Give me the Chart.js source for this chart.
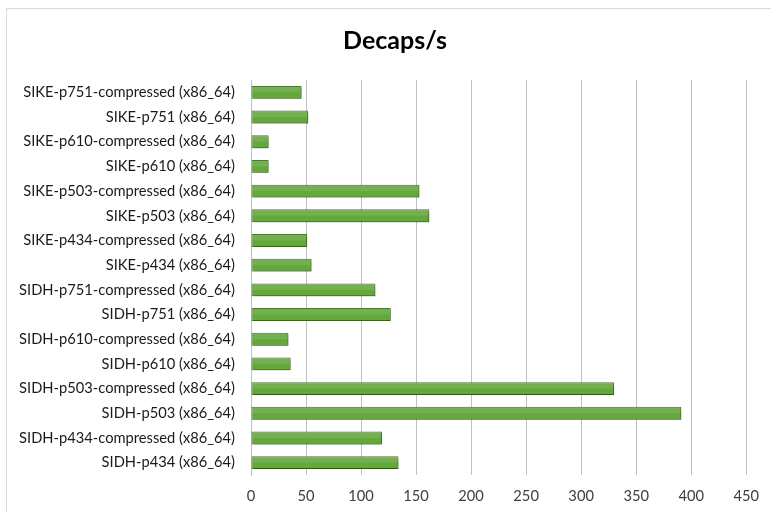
<!DOCTYPE html>
<html>
<head>
<meta charset="utf-8">
<script src="https://cdn.jsdelivr.net/npm/chart.js@4"></script>
<style>
  html, body { margin: 0; padding: 0; background: #fff; overflow: hidden; }
  #wrap { position: relative; width: 771px; height: 512px; }
  #frame { position: absolute; left: 6px; top: 8px; width: 820px; height: 600px; border: 1px solid #d9d9d9; }
  canvas { position: absolute; left: 0; top: 0; }
</style>
</head>
<body>
<div id="wrap">
  <div id="frame"></div>
  <canvas id="chart" width="771" height="512"></canvas>
</div>
<script>
// 类别（从上到下）
const categories = [
    'SIKE-p751-compressed (x86_64)',
    'SIKE-p751 (x86_64)',
    'SIKE-p610-compressed (x86_64)',
    'SIKE-p610 (x86_64)',
    'SIKE-p503-compressed (x86_64)',
    'SIKE-p503 (x86_64)',
    'SIKE-p434-compressed (x86_64)',
    'SIKE-p434 (x86_64)',
    'SIDH-p751-compressed (x86_64)',
    'SIDH-p751 (x86_64)',
    'SIDH-p610-compressed (x86_64)',
    'SIDH-p610 (x86_64)',
    'SIDH-p503-compressed (x86_64)',
    'SIDH-p503 (x86_64)',
    'SIDH-p434-compressed (x86_64)',
    'SIDH-p434 (x86_64)'
];

// 每秒解封装次数
const decapsPerSec = [46, 52, 16, 16, 153, 162, 51, 55, 113, 127, 34, 36, 330, 391, 119, 134];

const xMin = 0;
const xMax = 450;
const xStep = 50;

// 柱子阴影 + 上半部高光
const shadowPlugin = {
    id: 'barShadow',
    beforeDatasetsDraw(chart) {
        const ctx = chart.ctx;
        ctx.save();
        ctx.shadowColor = 'rgba(0,0,0,0.35)';
        ctx.shadowOffsetX = 1.5;
        ctx.shadowOffsetY = 1.5;
        ctx.shadowBlur = 2;
    },
    afterDatasetsDraw(chart) {
        const ctx = chart.ctx;
        ctx.restore();
        ctx.save();
        ctx.fillStyle = 'rgba(255,255,255,0.10)';
        chart.getDatasetMeta(0).data.forEach(bar => {
            const left = Math.min(bar.base, bar.x) + 1;
            const w = Math.abs(bar.x - bar.base) - 2;
            ctx.fillRect(left, bar.y - bar.height / 2 + 1, w, bar.height / 2 - 1);
        });
        ctx.restore();
    }
};

// 标题居中于外框
const titleShift = {
    id: 'titleShift',
    afterLayout(chart) {
        if (chart.titleBlock) {
            chart.titleBlock.left = 19;
            chart.titleBlock.right = 771;
        }
    }
};

new Chart(document.getElementById('chart'), {
    type: 'bar',
    data: {
        labels: categories,
        datasets: [{
            label: 'Decaps/s',
            data: decapsPerSec,
            backgroundColor: '#64a83b',
            borderColor: '#4a7f2a',
            borderWidth: 1,
            borderSkipped: false,
            categoryPercentage: 1,
            barPercentage: 0.52
        }]
    },
    options: {
        indexAxis: 'y',
        responsive: false,
        animation: false,
        layout: { padding: { left: 0, right: 22, top: 0, bottom: 0 } },
        plugins: {
            legend: { display: false },
            tooltip: { enabled: false },
            title: {
                display: true,
                text: 'Decaps/s',
                color: '#000',
                font: { family: 'Lato', size: 25, weight: 'bold', lineHeight: 1.2 },
                padding: { top: 26, bottom: 24 }
            }
        },
        scales: {
            x: {
                min: xMin,
                max: xMax,
                ticks: {
                    stepSize: xStep,
                    color: '#404040',
                    font: { family: 'Lato', size: 14.7 },
                    padding: 12
                },
                grid: { color: '#c0c0c0', drawTicks: false },
                border: { display: false },
                afterFit(scale) { scale.height = 37; }
            },
            y: {
                ticks: {
                    color: '#1a1a1a',
                    font: { family: 'Lato', size: 14.7 },
                    padding: 16,
                    autoSkip: false
                },
                grid: { display: false, drawTicks: false },
                border: { display: true, color: '#c0c0c0' },
                afterFit(scale) { scale.width = 251; }
            }
        }
    },
    plugins: [shadowPlugin, titleShift]
});
</script>
</body>
</html>
